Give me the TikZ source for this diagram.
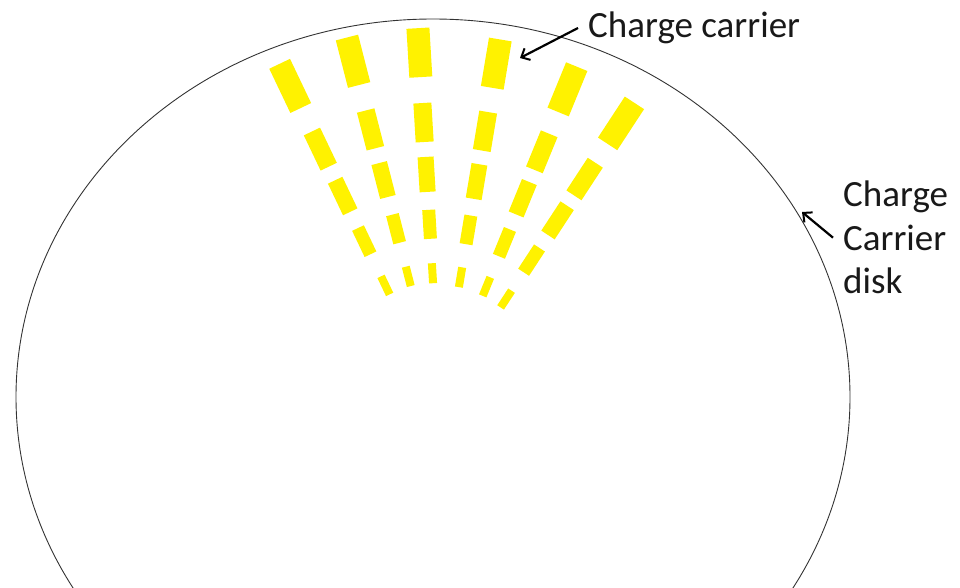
\documentclass[tikz,border=0pt]{standalone}
\usepackage{fontspec}
\setmainfont{Carlito}
\usetikzlibrary{arrows.meta,positioning,calc}

\begin{document}
\begin{tikzpicture}[
      x=1pt,y=-1pt,
      disk/.style={draw=black!80,line width=0.9pt},
      carrier/.style={fill=yellow,draw=none,inner sep=0pt,outer sep=0pt},
      lbl/.style={font=\fontsize{37}{43.5}\selectfont,text=black!90,inner sep=0pt,align=left},
      >={Straight Barb[length=7pt,width=13pt,line width=2pt]}
    ]
      \clip (0,0) rectangle (960,588);
      \draw[disk] (433,397) ellipse [x radius=417, y radius=378];
      \coordinate (hub) at (440,400);

      % rays of charge carriers
      \foreach \ang/\s in {-25.5/1.0,-14.4/1.005,-3.4/1.0,9.5/0.98,22.3/0.965,33.2/0.95}{
        \foreach \r/\w/\l in {348/23/49,278/18/39,226/16/35,176/13/29,127/8/20}{
          \node[carrier,minimum width=\w,minimum height=\l,rotate=-\ang]
            at ($(hub)+(\ang-90:\s*\r)$) {};
        }
      }

      \node[lbl,anchor=west] (cc) at (588,28) {Charge carrier};
      \coordinate (cctip) at (520,58);
      \draw[->,line width=2.2pt] ([xshift=-10pt]cc.west) -- (cctip);

      \node[lbl,anchor=north west] (cd) at (843,181) {Charge\\Carrier\\disk};
      \coordinate (cdtip) at (802,212);
      \draw[->,line width=2.2pt] ([xshift=-10pt]cd.west) -- (cdtip);
    \end{tikzpicture}
\end{document}
